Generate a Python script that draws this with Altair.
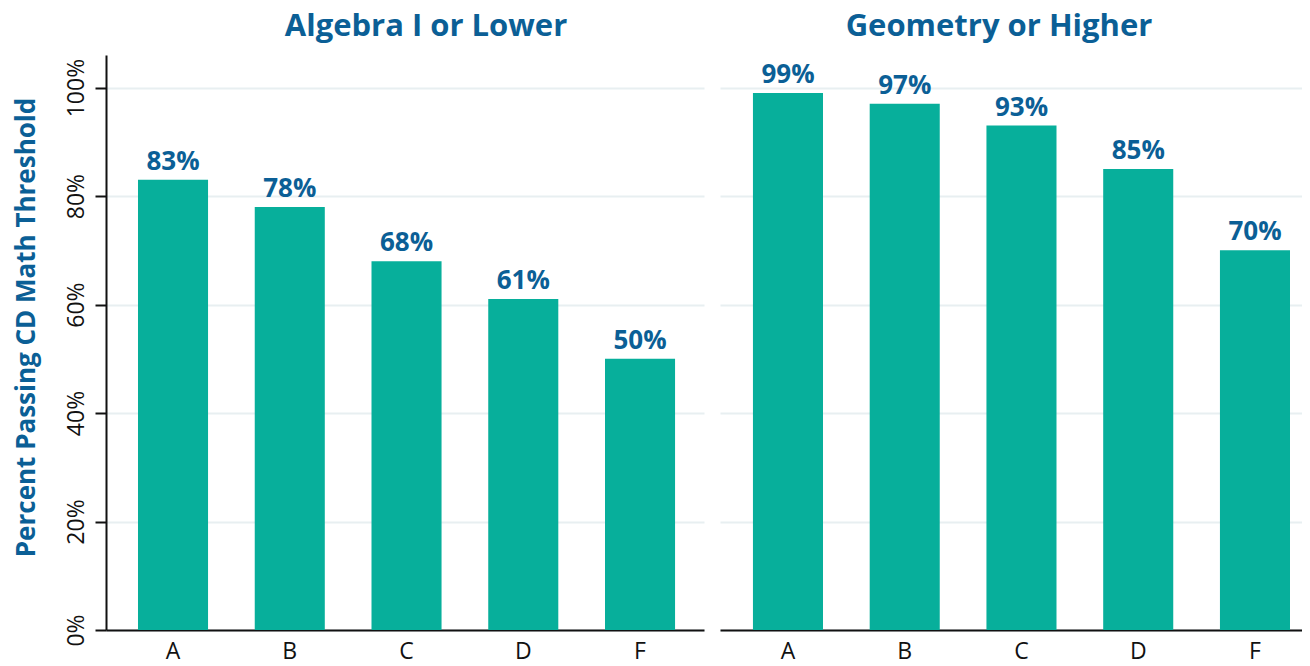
import altair as alt
import pandas as pd

grades = ["A", "B", "C", "D", "F"]
algebra_vals = [83, 78, 68, 61, 50]
geometry_vals = [99, 97, 93, 85, 70]
panel_titles = ["Algebra I or Lower", "Geometry or Higher"]
y_ticks = [0, 20, 40, 60, 80, 100]
y_title = "Percent Passing CD Math Threshold"

BLUE = "#0b5f96"
TEAL = "#07af9b"
GRID = "#e8eff1"
INK = "#111111"
FONT = "Open Sans"


def panel(vals, title, width, po, align, left, dx):
    df = pd.DataFrame({
        "grade": grades,
        "value": [v / 100 for v in vals],
        "label": [f"{v}%" for v in vals],
    })
    xenc = alt.X(
        "grade:N", sort=grades,
        scale=alt.Scale(paddingInner=0.4, paddingOuter=po, align=align),
        axis=alt.Axis(title=None, labelAngle=0, ticks=False, grid=False,
                      labelFontSize=23, labelFont=FONT, labelColor=INK,
                      labelPadding=10, domainColor=INK, domainWidth=2),
    )
    if left:
        yaxis = alt.Axis(
            values=[t / 100 for t in y_ticks], format=".0%",
            title=y_title, titleFont=FONT, titleFontSize=26, titleFontWeight="bold",
            titleColor=BLUE, titleAngle=-90, titleX=-93, titleY=272,
            titleAlign="center", titleBaseline="top",
            labelAngle=-90, labelAlign="center", labelBaseline="alphabetic",
            labelFont=FONT, labelFontSize=23, labelColor=INK, labelPadding=12,
            tickSize=11, tickWidth=2, tickColor=INK,
            domainColor=INK, domainWidth=2,
            grid=True, gridColor=GRID, gridWidth=2,
        )
    else:
        yaxis = alt.Axis(
            values=[t / 100 for t in y_ticks], labels=False, ticks=False,
            domain=False, title=None, grid=True, gridColor=GRID, gridWidth=2,
        )
    yenc = alt.Y("value:Q", scale=alt.Scale(domain=[0, 1.06], nice=False), axis=yaxis)
    base = alt.Chart(df).encode(x=xenc, y=yenc)
    bars = base.mark_bar(color=TEAL)
    text = base.mark_text(
        dy=-10, baseline="alphabetic", font=FONT, fontSize=26,
        fontWeight="bold", color=BLUE,
    ).encode(text="label:N")
    return (bars + text).properties(
        width=width, height=575,
        title=alt.TitleParams(title, font=FONT, fontSize=31, fontWeight="bold",
                              color=BLUE, dx=dx, offset=12, anchor="middle"),
    )


left_chart = panel(algebra_vals, panel_titles[0], 598, 0.261, 0.525, True, 21)
right_chart = panel(geometry_vals, panel_titles[1], 582, 0.1925, 0.733, False, -12)

chart = alt.hconcat(left_chart, right_chart, spacing=16).properties(
    padding={"left": 5, "top": 3, "right": 0, "bottom": 6}
).configure_view(stroke=None)

chart.save("out.html", embed_options={"renderer": "svg", "actions": False})
